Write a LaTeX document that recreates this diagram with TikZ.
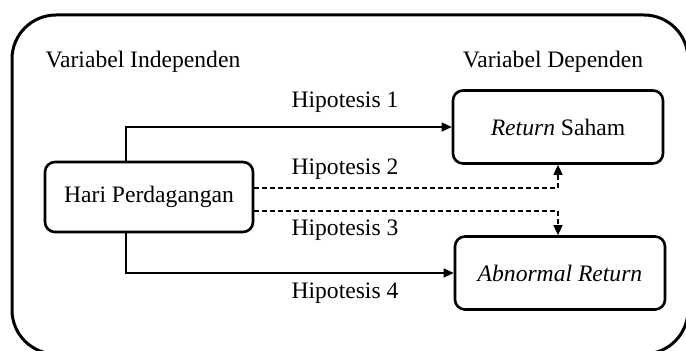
\documentclass[tikz,border=0pt]{standalone}
\usepackage{fontspec}
\setmainfont{Liberation Serif}
\usetikzlibrary{arrows.meta}
\begin{document}
\begin{tikzpicture}[x=0.5pt,y=-0.5pt,
    every node/.style={font=\fontsize{11.8}{14}\selectfont},
    varbox/.style={draw, line width=1.3pt, rounded corners=5pt, inner sep=0pt,
      minimum width=105pt, minimum height=36.5pt},
    hipo/.style={-{Triangle[length=5pt,width=4.5pt]}, line width=0.6pt},
    hipodash/.style={hipo, dash pattern=on 2.5pt off 1.5pt}]
    \useasboundingbox (0,0) rectangle (686,351);
    \clip (0,0) rectangle (686,351);
    % Frame
    \draw[line width=1.5pt, rounded corners=22pt] (12,15) rectangle (688,354);

    % Headings
    \node (indep) at (143,62) {Variabel Independen};
    \node (dep) at (553,62) {Variabel Dependen};

    % Variables
    \node[varbox, minimum width=104pt, minimum height=35pt] (hari) at (149,197) {Hari Perdagangan};
    \node[varbox] (return) at (558,127) {\textit{Return} Saham};
    \node[varbox] (abnormal) at (560,273) {\textit{Abnormal Return}};

    % Hypotheses
    \draw[hipo] (hari.north -| 126,0) |- (return.west);
    \draw[hipodash] (hari.east |- 0,188) -| (return.south);
    \draw[hipodash] (hari.east |- 0,211) -| (return.south |- abnormal.north);
    \draw[hipo] (hari.south -| 126,0) |- (abnormal.west);
    \node (h1) at (345,102) {Hipotesis 1};
    \node (h2) at (345,169) {Hipotesis 2};
    \node (h3) at (345,230) {Hipotesis 3};
    \node (h4) at (345,293) {Hipotesis 4};
\end{tikzpicture}
\end{document}
